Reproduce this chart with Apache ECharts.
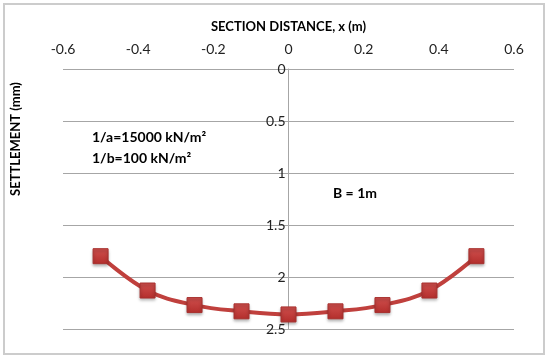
<!DOCTYPE html>
<html>
<head>
<meta charset="utf-8">
<script src="https://cdn.jsdelivr.net/npm/echarts@6/dist/echarts.min.js"></script>
<style>
  html, body { margin: 0; padding: 0; background: #fff; }
  #main { width: 549px; height: 361px; }
</style>
</head>
<body>
<div id="main"></div>
<script>
// section distance x (m) and settlement (mm)
var distance = [-0.5, -0.375, -0.25, -0.125, 0, 0.125, 0.25, 0.375, 0.5];
var settlement = [1.80, 2.13, 2.27, 2.33, 2.36, 2.33, 2.27, 2.13, 1.80];
var xTicks = [-0.6, -0.4, -0.2, 0, 0.2, 0.4, 0.6];
var yTicks = [0, 0.5, 1, 1.5, 2, 2.5];

var font = 'Lato, "Open Sans", sans-serif';
var points = distance.map(function (d, i) { return [d, settlement[i]]; });

var gridLeft = 63, gridRight = 35;
var plotWidth = 549 - gridLeft - gridRight;
// y axis sits at x = 0, so push it into the plot
var yOffset = -plotWidth * (0 - xTicks[0]) / (xTicks[xTicks.length - 1] - xTicks[0]);

var chart = echarts.init(document.getElementById('main'));
chart.setOption({
    animation: false,
    grid: { left: gridLeft, right: gridRight, top: 69, bottom: 32 },
    xAxis: {
        type: 'value',
        position: 'top',
        min: xTicks[0],
        max: xTicks[xTicks.length - 1],
        interval: 0.2,
        name: 'SECTION DISTANCE, x (m)',
        nameLocation: 'middle',
        nameGap: 36,
        nameTextStyle: { fontFamily: font, fontWeight: 'bold', fontSize: 13, color: '#000' },
        axisLine: { show: false, onZero: false },
        axisTick: { show: false },
        splitLine: { show: false },
        axisLabel: {
            margin: 13,
            fontFamily: font,
            fontSize: 14,
            color: '#222',
            formatter: function (v) { return String(Math.round(v * 10) / 10); }
        }
    },
    yAxis: {
        type: 'value',
        inverse: true,
        min: yTicks[0],
        max: yTicks[yTicks.length - 1],
        interval: 0.5,
        offset: yOffset,
        axisLine: { show: true, onZero: false, lineStyle: { color: '#a6a6a6', width: 1 } },
        axisTick: { show: false },
        splitLine: { show: true, lineStyle: { color: '#a6a6a6', width: 1 } },
        axisLabel: {
            margin: 3,
            fontFamily: font,
            fontSize: 14,
            color: '#222',
            verticalAlign: 'middle'
        }
    },
    graphic: [
        {
            type: 'rect',
            shape: { x: 4, y: 4, width: 540, height: 350 },
            style: { fill: 'none', stroke: '#cccccc', lineWidth: 2 },
            silent: true
        },
        {
            type: 'text',
            x: 16, y: 139,
            rotation: Math.PI / 2,
            style: {
                text: 'SETTLEMENT (mm)',
                fontFamily: font, fontWeight: 'bold', fontSize: 13, fill: '#000',
                align: 'center', verticalAlign: 'middle'
            }
        },
        {
            type: 'text',
            x: 92, y: 137,
            style: {
                text: '1/a=15000 kN/m²',
                fontFamily: font, fontWeight: 'bold', fontSize: 14, fill: '#000',
                verticalAlign: 'middle'
            }
        },
        {
            type: 'text',
            x: 92, y: 158,
            style: {
                text: '1/b=100 kN/m²',
                fontFamily: font, fontWeight: 'bold', fontSize: 14, fill: '#000',
                verticalAlign: 'middle'
            }
        },
        {
            type: 'text',
            x: 333, y: 193,
            style: {
                text: 'B = 1m',
                fontFamily: font, fontWeight: 'bold', fontSize: 14, fill: '#000',
                verticalAlign: 'middle'
            }
        }
    ],
    series: [{
        type: 'line',
        data: points,
        smooth: 0.4,
        symbol: 'rect',
        symbolSize: 15,
        lineStyle: { color: '#C0403D', width: 4 },
        itemStyle: {
            color: new echarts.graphic.LinearGradient(0, 0, 0, 1, [
                { offset: 0, color: '#D0504E' },
                { offset: 1, color: '#B32E2C' }
            ]),
            borderColor: '#A8302E',
            borderWidth: 1,
            shadowColor: 'rgba(0,0,0,0.3)',
            shadowBlur: 3,
            shadowOffsetY: 2
        }
    }]
});
</script>
</body>
</html>
